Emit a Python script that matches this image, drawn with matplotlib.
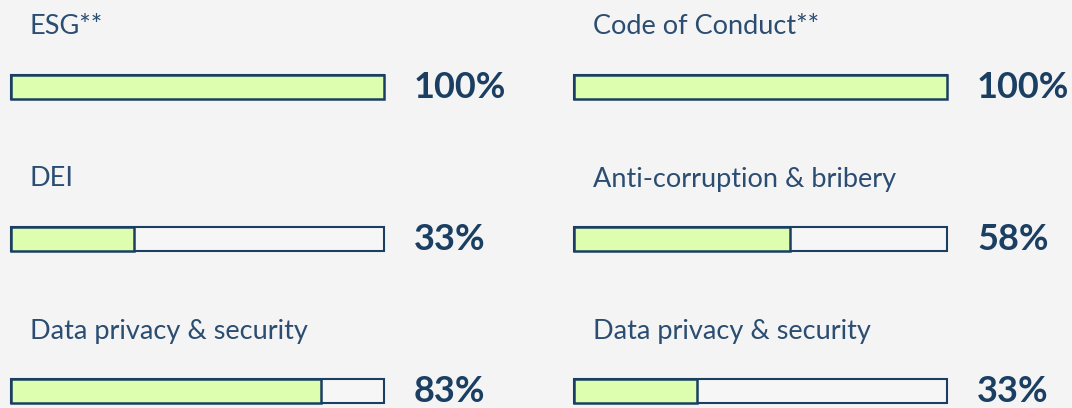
import matplotlib.pyplot as plt

# chart data
left_labels = ['ESG**', 'DEI', 'Data privacy & security']
left_values = [100, 33, 83]
right_labels = ['Code of Conduct**', 'Anti-corruption & bribery', 'Data privacy & security']
right_values = [100, 58, 33]

bg = '#f4f4f4'
navy = '#1b3f63'
label_col = '#2b4d72'
fill = '#ddfeae'

fig = plt.figure(figsize=(10.72, 4.08), dpi=100, facecolor=bg)
ax = fig.add_axes([0, 0, 1, 1])
ax.set_facecolor(bg)
ax.set_xlim(0, 1072)
ax.set_ylim(408, 0)
ax.axis('off')

bar_len = 373
bar_h = 24
row_y = [86.5, 238.5, 390.5]

def column(labels, values, x0, tx):
    full = [bar_len] * len(values)
    ax.barh(row_y, full, left=x0, height=bar_h, color='#f6f6f6',
            edgecolor=navy, linewidth=1.5, zorder=2)
    widths = [v / 100 * bar_len for v in values]
    ax.barh(row_y, widths, left=x0, height=bar_h, color=fill,
            edgecolor=navy, linewidth=1.8, zorder=3)
    for y, lab, v in zip(row_y, labels, values):
        ax.text(x0 + 19, y - 52, lab, fontsize=19.5, color=label_col,
                family='Lato', va='baseline', ha='left')
        ax.text(tx, y + 12, f'{v}%', fontsize=26, color=navy,
                family='Lato', fontweight='bold', va='baseline', ha='left')

column(left_labels, left_values, 11, 414)
column(right_labels, right_values, 574, 977)

fig.savefig('out.png', dpi=100, facecolor=bg)
